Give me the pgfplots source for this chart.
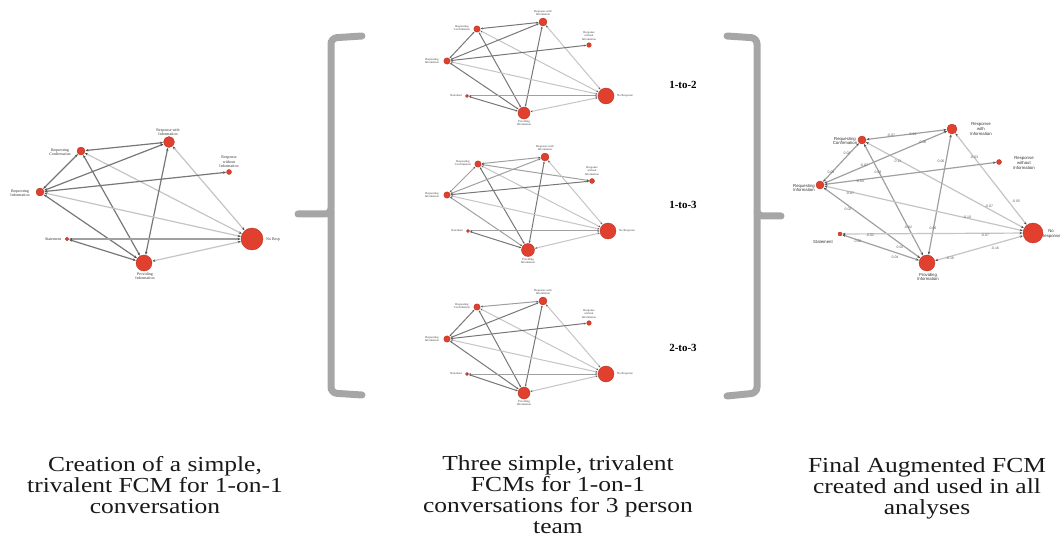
\documentclass[border=0pt]{standalone}
\usepackage{fontspec}
\setmainfont{Liberation Serif}
\newfontfamily\sansf{Liberation Sans}
\newfontfamily\capf[FakeStretch=1.19]{Liberation Serif}
\usepackage{pgfplots}
\pgfplotsset{compat=1.18}
\usetikzlibrary{arrows.meta}
\definecolor{nodered}{HTML}{E2402E}
\definecolor{edk}{HTML}{777777}
\definecolor{emd}{HTML}{A0A0A0}
\definecolor{elt}{HTML}{C4C4C4}
\definecolor{bracec}{HTML}{A6A6A6}
\newcommand\E[7]{\addplot[#1, shorten <=#4bp, shorten >=#7bp] coordinates {(#2,#3) (#5,#6)};}
\pgfplotsset{
  fnodes/.style={scatter, only marks, mark=*, point meta=\thisrow{r},
    scatter/use mapped color={draw=nodered!80!black, fill=nodered},
    visualization depends on={\thisrow{r} \as \rad},
    scatter/@pre marker code/.append style={/tikz/mark size=\rad, /tikz/line width=0.3pt}},
  arrA/.style={{Stealth[length=3bp,width=2.4bp,color=black!70]}-{Stealth[length=3bp,width=2.4bp,color=black!70]}},
  arrB/.style={{Stealth[length=2.2bp,width=1.8bp,color=black!65]}-{Stealth[length=2.2bp,width=1.8bp,color=black!65]}},
  dk/.style={draw=edk, line width=1.2bp, no markers, arrA},
  md/.style={draw=emd, line width=1.2bp, no markers, arrA},
  lt/.style={draw=elt, line width=1.2bp, no markers, arrA},
  mdk/.style={draw=edk, line width=1bp, no markers, arrB},
  mmd/.style={draw=emd, line width=1bp, no markers, arrB},
  mlt/.style={draw=elt, line width=1bp, no markers, arrB},
  brc/.style={draw=bracec, line width=7bp, no markers, rounded corners=6bp, line cap=round},
}
\begin{document}
\begin{tikzpicture}
\begin{axis}[x=1bp, y=1bp, y dir=reverse, xmin=0, xmax=1060, ymin=0, ymax=538,
  hide axis, clip=false]
\coordinate (bl) at (axis cs:0,538);
\coordinate (tr) at (axis cs:1060,0);
% ---------- braces
\addplot[brc] coordinates {(362,36) (331,38) (331,214) (298,214)};
\addplot[brc] coordinates {(331,210) (331,393) (362,395)};
\addplot[brc] coordinates {(727,36) (757,38) (757,216) (781,216)};
\addplot[brc] coordinates {(757,212) (757,393) (727,396)};
% ---------- left graph edges  (C W O I S N P)
\E{dk}{81}{151}{4.5}{169}{142}{6}
\E{dk}{81}{151}{4.5}{40}{192}{4.5}
\E{dk}{81}{151}{4.5}{144}{263}{8.5}
\E{lt}{81}{151}{4.5}{252}{239}{11.5}
\E{dk}{169}{142}{6}{40}{192}{4.5}
\E{dk}{169}{142}{6}{144}{263}{8.5}
\E{lt}{169}{142}{6}{252}{239}{11.5}
\E{dk}{229}{172}{3}{40}{192}{4.5}
\E{dk}{40}{192}{4.5}{144}{263}{8.5}
\E{lt}{40}{192}{4.5}{252}{239}{11.5}
\E{dk}{67}{239}{2.3}{144}{263}{8.5}
\E{md}{67}{239}{2.3}{252}{239}{11.5}
\E{lt}{144}{263}{8.5}{252}{239}{11.5}
% ---------- middle graph 1
\E{mdk}{477}{29}{3.7}{543}{22}{4.5}
\E{mdk}{477}{29}{3.7}{447}{61}{3.7}
\E{mdk}{477}{29}{3.7}{524}{113}{6.5}
\E{mlt}{477}{29}{3.7}{606}{96}{8.5}
\E{mdk}{543}{22}{4.5}{447}{61}{3.7}
\E{mdk}{543}{22}{4.5}{524}{113}{6.5}
\E{mlt}{543}{22}{4.5}{606}{96}{8.5}
\E{mdk}{589}{45}{2.8}{447}{61}{3.7}
\E{mdk}{447}{61}{3.7}{524}{113}{6.5}
\E{mlt}{447}{61}{3.7}{606}{96}{8.5}
\E{mdk}{467}{96}{2}{524}{113}{6.5}
\E{mmd}{467}{96}{2}{606}{96}{8.5}
\E{mlt}{524}{113}{6.5}{606}{96}{8.5}
% ---------- middle graph 2
\E{mmd}{478}{164}{3.7}{545}{157}{4.5}
\E{mmd}{478}{164}{3.7}{447}{195}{3.7}
\E{mdk}{478}{164}{3.7}{528}{250}{7}
\E{mlt}{478}{164}{3.7}{608}{231}{8.5}
\E{mmd}{478}{164}{3.7}{592}{181}{3}
\E{mmd}{545}{157}{4.5}{447}{195}{3.7}
\E{mdk}{545}{157}{4.5}{528}{250}{7}
\E{mlt}{545}{157}{4.5}{608}{231}{8.5}
\E{mdk}{592}{181}{3}{447}{195}{3.7}
\E{mmd}{447}{195}{3.7}{528}{250}{7}
\E{mlt}{447}{195}{3.7}{608}{231}{8.5}
\E{mdk}{468}{231}{2}{528}{250}{7}
\E{mmd}{468}{231}{2}{608}{231}{8.5}
\E{mlt}{528}{250}{7}{608}{231}{8.5}
% ---------- middle graph 3
\E{mmd}{477}{307}{3.7}{543}{301}{4.5}
\E{mdk}{477}{307}{3.7}{447}{339}{3.7}
\E{mdk}{477}{307}{3.7}{524}{393}{6.5}
\E{mlt}{477}{307}{3.7}{606}{374}{8.5}
\E{mdk}{543}{301}{4.5}{447}{339}{3.7}
\E{mdk}{543}{301}{4.5}{524}{393}{6.5}
\E{mlt}{543}{301}{4.5}{606}{374}{8.5}
\E{mdk}{589}{323}{2.8}{447}{339}{3.7}
\E{mdk}{447}{339}{3.7}{524}{393}{6.5}
\E{mlt}{447}{339}{3.7}{606}{374}{8.5}
\E{mdk}{467}{374}{2}{524}{393}{6.5}
\E{mmd}{467}{374}{2}{606}{374}{8.5}
\E{mlt}{524}{393}{6.5}{606}{374}{8.5}
% ---------- right graph
\E{md}{862}{140}{4.5}{952}{129}{5.5}
\E{md}{862}{140}{4.5}{820}{185}{4.5}
\E{md}{862}{140}{4.5}{927}{263}{8.5}
\E{lt}{862}{140}{4.5}{1033}{233}{10.5}
\E{md}{952}{129}{5.5}{820}{185}{4.5}
\E{md}{952}{129}{5.5}{927}{263}{8.5}
\E{lt}{952}{129}{5.5}{1033}{233}{10.5}
\E{md}{999}{162}{3}{820}{185}{4.5}
\E{md}{820}{185}{4.5}{927}{263}{8.5}
\E{lt}{820}{185}{4.5}{1033}{233}{10.5}
\E{md}{840}{234}{2.5}{927}{263}{8.5}
\E{lt}{840}{234}{2.5}{1033}{233}{10.5}
\E{lt}{927}{263}{8.5}{1033}{233}{10.5}
% ---------- nodes
\addplot[fnodes] table[row sep=\\]{x y r\\
81 151 4\\ 169 142 5.5\\ 229 172 2.5\\ 40 192 4\\ 67 239 1.8\\ 252 239 11\\ 144 263 8\\};
\addplot[fnodes] table[row sep=\\]{x y r\\
477 29 3.2\\ 543 22 4\\ 589 45 2.3\\ 447 61 3.2\\ 467 96 1.5\\ 606 96 8\\ 524 113 6\\};
\addplot[fnodes] table[row sep=\\]{x y r\\
478 164 3.2\\ 545 157 4\\ 592 181 2.5\\ 447 195 3.2\\ 468 231 1.5\\ 608 231 8\\ 528 250 6.5\\};
\addplot[fnodes] table[row sep=\\]{x y r\\
477 307 3.2\\ 543 301 4\\ 589 323 2.3\\ 447 339 3.2\\ 467 374 1.5\\ 606 374 8\\ 524 393 6\\};
\addplot[fnodes] table[row sep=\\]{x y r\\
862 140 4\\ 952 129 5\\ 999 162 2.5\\ 820 185 4\\ 840 234 2\\ 1033 233 10\\ 927 263 8\\};
% ---------- left labels
\begin{scope}[every node/.style={font=\fontsize{4}{4.3}\selectfont, align=center, text=black!80, inner sep=0pt}]
\node at (axis cs:60,152) {Requesting\\Confirmation};
\node at (axis cs:168,132) {Response with\\Information};
\node at (axis cs:229,162) {Response\\without\\Information};
\node at (axis cs:20,193) {Requesting\\Information};
\node at (axis cs:53,239) {Statement};
\node[anchor=west] at (axis cs:266,240) {No Resp};
\node at (axis cs:145,276) {Providing\\Information};
\end{scope}
% ---------- middle labels
\begin{scope}[every node/.style={font=\fontsize{3}{3.3}\selectfont, align=center, text=black!75, inner sep=0pt}]
\node at (axis cs:462,28) {Requesting\\Confirmation};
\node at (axis cs:543,13) {Response with\\Information};
\node at (axis cs:589,36) {Response\\without\\Information};
\node at (axis cs:432,61) {Requesting\\Information};
\node at (axis cs:456,96) {Statement};
\node[anchor=west] at (axis cs:617,96) {No Response};
\node at (axis cs:524,123) {Providing\\Information};
\node at (axis cs:463,163) {Requesting\\Confirmation};
\node at (axis cs:545,148) {Response with\\Information};
\node at (axis cs:592,171) {Response\\without\\Information};
\node at (axis cs:432,195) {Requesting\\Information};
\node at (axis cs:457,231) {Statement};
\node[anchor=west] at (axis cs:619,231) {No Response};
\node at (axis cs:528,261) {Providing\\Information};
\node at (axis cs:462,306) {Requesting\\Confirmation};
\node at (axis cs:543,292) {Response with\\Information};
\node at (axis cs:589,314) {Response\\without\\Information};
\node at (axis cs:432,339) {Requesting\\Information};
\node at (axis cs:456,374) {Statement};
\node[anchor=west] at (axis cs:617,374) {No Response};
\node at (axis cs:524,403) {Providing\\Information};
\end{scope}
\begin{scope}[every node/.style={font=\bfseries\fontsize{11}{12}\selectfont, inner sep=0pt}]
\node at (axis cs:683,85) {1-to-2};
\node at (axis cs:683,205) {1-to-3};
\node at (axis cs:683,348) {2-to-3};
\end{scope}
% ---------- right labels
\begin{scope}[every node/.style={font=\sansf\fontsize{4.3}{4.8}\selectfont, align=center, text=black!80, inner sep=0pt}]
\node at (axis cs:845,141) {Requesting\\Confirmation};
\node at (axis cs:981,129) {Response\\with\\Information};
\node at (axis cs:1024,163) {Response\\without\\Information};
\node at (axis cs:804,188) {Requesting\\Information};
\node at (axis cs:823,242) {Statement};
\node at (axis cs:1051,234) {No\\Response};
\node at (axis cs:928,277) {Providing\\Information};
\end{scope}
\begin{scope}[every node/.style={font=\sansf\fontsize{3.5}{3.8}\selectfont, text=black!65, inner sep=0pt}]
\node at (axis cs:891,135) {-0.07};
\node at (axis cs:913,134) {0.04};
\node at (axis cs:847,153) {0.03};
\node at (axis cs:831,172) {0.03};
\node at (axis cs:864,165) {-0.07};
\node at (axis cs:923,142) {0.06};
\node at (axis cs:898,161) {0.11};
\node at (axis cs:989,206) {-0.07};
\node at (axis cs:878,172) {0.03};
\node at (axis cs:908,227) {-0.02};
\node at (axis cs:941,161) {0.06};
\node at (axis cs:933,228) {0.06};
\node at (axis cs:974,157) {-0.03};
\node at (axis cs:1016,201) {-0.05};
\node at (axis cs:860,181) {-0.04};
\node at (axis cs:850,193) {-0.07};
\node at (axis cs:967,217) {-0.10};
\node at (axis cs:848,209) {0.02};
\node at (axis cs:900,247) {0.02};
\node at (axis cs:870,235) {-0.02};
\node at (axis cs:985,235) {-0.07};
\node at (axis cs:858,241) {0.02};
\node at (axis cs:895,257) {0.04};
\node at (axis cs:950,258) {-0.16};
\node at (axis cs:995,248) {-0.16};
\end{scope}
% ---------- captions
\begin{scope}[every node/.style={font=\capf\fontsize{21.5}{21}\selectfont, anchor=base, inner sep=0pt, text=black!90}]
\node at (axis cs:155,471) {Creation of a simple,};
\node at (axis cs:155,492) {trivalent FCM for 1-on-1};
\node at (axis cs:155,513) {conversation};
\node at (axis cs:558,470) {Three simple, trivalent};
\node at (axis cs:558,491) {FCMs for 1-on-1};
\node at (axis cs:558,512) {conversations for 3 person};
\node at (axis cs:558,533) {team};
\node at (axis cs:927,472) {Final Augmented FCM};
\node at (axis cs:927,493) {created and used in all};
\node at (axis cs:927,514) {analyses};
\end{scope}
\end{axis}
\pgfresetboundingbox
\path (bl) rectangle (tr);
\end{tikzpicture}
\end{document}
